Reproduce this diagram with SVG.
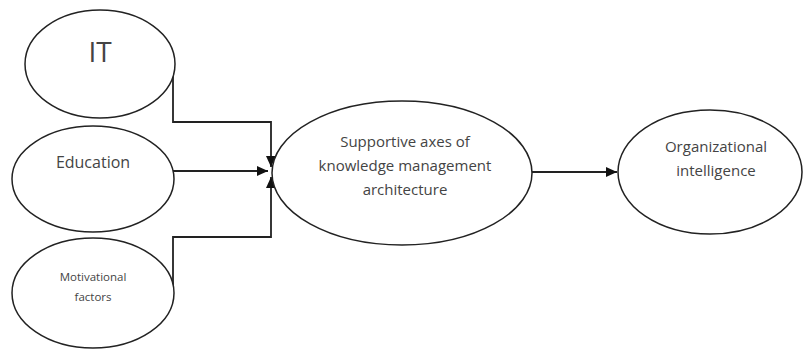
<svg xmlns="http://www.w3.org/2000/svg" width="805" height="352" viewBox="0 0 805 352">
<style>
.node ellipse{fill:#fff;stroke:#222;stroke-width:1.5}
.node text{font-family:"Open Sans","Noto Sans",sans-serif;fill:#444;text-anchor:middle}
.conn path{fill:none;stroke:#222;stroke-width:1.8}
</style>
<defs>
<marker id="ah" markerWidth="11" markerHeight="10" refX="11" refY="5" orient="auto" markerUnits="userSpaceOnUse">
<path d="M0,0 L11,5 L0,10 Z" fill="#111"/>
</marker>
</defs>
<rect width="805" height="352" fill="#fff"/>
<g id="connectors" class="conn">
<path d="M173,70 V122 H271 V167" marker-end="url(#ah)"/>
<path d="M173,171 H268" marker-end="url(#ah)"/>
<path d="M173,285 V237 H271 V177" marker-end="url(#ah)"/>
<path d="M532,172 H617" marker-end="url(#ah)"/>
</g>
<g id="it" class="node">
<ellipse cx="100" cy="64" rx="75" ry="54"/>
<text x="100" y="62" font-size="28">IT</text>
</g>
<g id="education" class="node">
<ellipse cx="93" cy="179" rx="81" ry="53"/>
<text x="93" y="168" font-size="16">Education</text>
</g>
<g id="motivational" class="node">
<ellipse cx="93" cy="293" rx="81" ry="55"/>
<text x="93" y="281" font-size="11.5">Motivational</text>
<text x="93" y="301" font-size="11.5">factors</text>
</g>
<g id="supportive" class="node">
<ellipse cx="402" cy="173" rx="130" ry="72"/>
<text x="405" y="147" font-size="15">Supportive axes of</text>
<text x="405" y="171" font-size="15">knowledge management</text>
<text x="405" y="195" font-size="15">architecture</text>
</g>
<g id="organizational" class="node">
<ellipse cx="710" cy="172" rx="92" ry="62"/>
<text x="716" y="152" font-size="15">Organizational</text>
<text x="716" y="176" font-size="15">intelligence</text>
</g>
</svg>
